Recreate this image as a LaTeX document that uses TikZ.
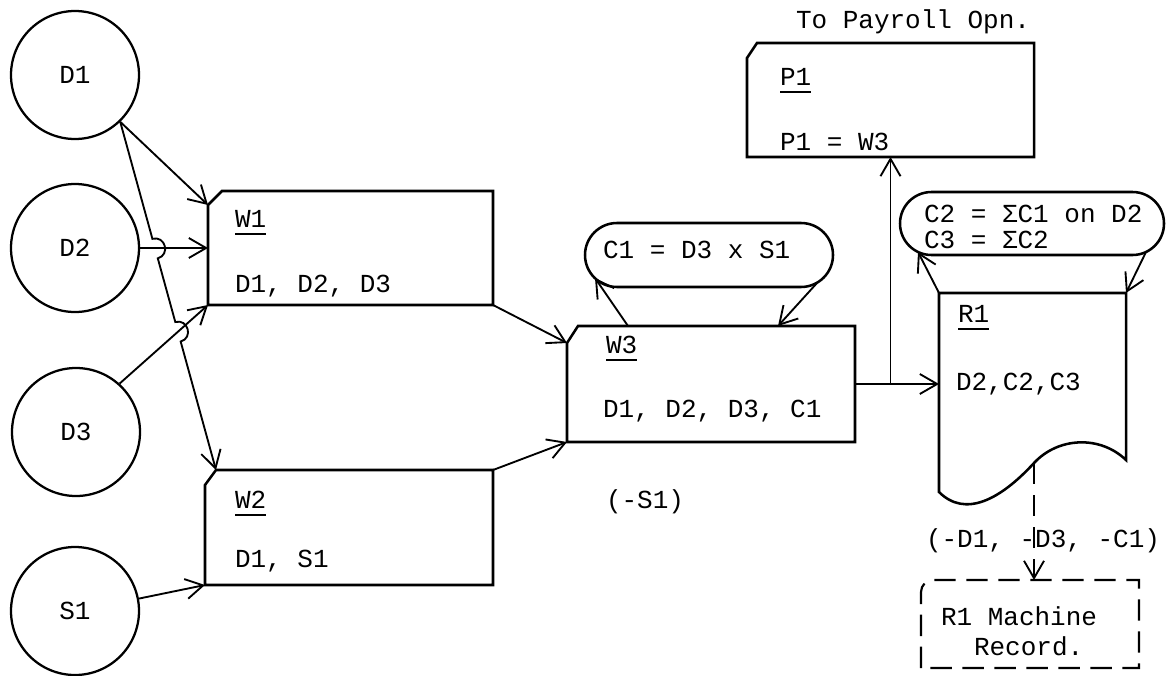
\documentclass[tikz,border=0pt]{standalone}
\usepackage{fontspec}
\setmainfont{Liberation Mono}
\usetikzlibrary{arrows.meta,calc}
\newcommand\ulx[1]{\setbox0=\hbox{#1}\rlap{\rule[-6.2pt]{\wd0}{1.5pt}}\box0}
\tikzset{
 ent/.style={circle, draw, line width=1.7pt, minimum size=96pt, inner sep=0pt},
 frame/.style={rectangle, inner sep=0pt, outer sep=0pt},
 outl/.style={line width=1.9pt, line join=miter},
 loopbox/.style={rectangle, draw, line width=1.9pt, inner sep=0pt, outer sep=0pt},
 conn/.style={line width=1.4pt, -{Straight Barb[length=13pt,width=15pt,line width=1.4pt]}},
 txt/.style={inner sep=0pt, outer sep=0pt, anchor=base west},
 dsh/.style={dash pattern=on 16pt off 8pt},
}
\begin{document}
\begin{tikzpicture}[x=0.75pt,y=-0.75pt, font=\fontsize{19.5}{22}\selectfont]
\useasboundingbox (0,0) rectangle (1166,675);
\fill[white] (0,0) rectangle (1166,675);

% entities
\node[ent] (D1) at (75,75) {D1};
\node[ent] (D2) at (75,248) {D2};
\node[ent] (D3) at (76,432) {D3};
\node[ent] (S1) at (75,611) {S1};

% W1
\node[frame, minimum width=213.75pt, minimum height=85.5pt] (W1) at (350.5,248) {};
\coordinate (W1c) at ($(W1.north west)+(0,14)$);
\draw[outl] (W1c) -- ($(W1.north west)+(14,0)$) -- (W1.north east) -- (W1.south east) -- (W1.south west) -- cycle;
% W2
\node[frame, minimum width=216pt, minimum height=86.25pt] (W2) at (349,527.5) {};
\coordinate (W2c) at ($(W2.north west)+(11,0)$);
\draw[outl] ($(W2.north west)+(0,15)$) -- (W2c) -- (W2.north east) -- (W2.south east) -- (W2.south west) -- cycle;
% W3
\node[frame, minimum width=216pt, minimum height=87pt] (W3) at (711,384) {};
\coordinate (W3c) at ($(W3.north west)+(0,17)$);
\draw[outl] (W3c) -- ($(W3.north west)+(11,0)$) -- (W3.north east) -- (W3.south east) -- (W3.south west) -- cycle;
% P1
\node[frame, minimum width=215.25pt, minimum height=85.5pt] (P1) at (890.5,100) {};
\draw[outl] ($(P1.north west)+(0,15)$) -- ($(P1.north west)+(10,0)$) -- (P1.north east) -- (P1.south east) -- (P1.south west) -- cycle;
% loops
\node[loopbox, rounded corners=24pt, minimum width=186pt, minimum height=48pt] (C1) at (709,255) {};
\node[loopbox, rounded corners=23.6pt, minimum width=198pt, minimum height=47.25pt] (C2) at (1032,223.5) {};
% R1 document
\node[frame, minimum width=140.25pt, minimum height=149.25pt, anchor=north west] (R1) at (939,293) {};
\coordinate (R1w) at ($(R1.north west)+(95,170)$);
\draw[outl] (R1.south west) .. controls +(26,26) and +(-34,37) .. (R1w)
  .. controls +(24,-26) and +(-26,-25) .. ($(R1.north east)+(0,167)$)
  -- (R1.north east) -- (R1.north west) -- cycle;
% machine record
\node[frame, minimum width=163.5pt, minimum height=66pt] (MR) at (1030,624) {};
\draw[outl, line width=1.6pt, dsh] (MR.south west) -- ($(MR.north west)+(0,12)$) to[out=90,in=180] ($(MR.north west)+(12,0)$) -- (MR.north east) -- (MR.south east) -- cycle;

% texts
\node[txt] (pay) at (796,28) {To Payroll Opn.};
\node[txt] (W1t) at (235,227) {\ulx{W1}};
\node[txt] (W1d) at (235,292) {D1, D2, D3};
\node[txt] (W2t) at (235,508) {\ulx{W2}};
\node[txt] (W2d) at (235,567) {D1, S1};
\node[txt] (W3t) at (606,353) {\ulx{W3}};
\node[txt] (W3d) at (603,417) {D1, D2, D3, C1};
\node[txt] (P1t) at (780,85) {\ulx{P1}};
\node[txt] (P1d) at (780,150) {P1 = W3};
\node[txt] (R1t) at (958,322) {\ulx{R1}};
\node[txt] (R1d) at (956,390) {D2,C2,C3};
\node[txt] (S1x) at (606,508) {(-S1)};
\node[txt] (C1t) at (603,258) {C1 = D3 x S1};
\node[txt] (C2t) at (924,222) {C2 = ΣC1 on D2};
\node[txt] (C3t) at (924,248) {C3 = ΣC2};
\node[txt] (Rx) at (926,547) {(-D1, -D3, -C1)};
\node[txt] (MR1) at (941,625) {R1 Machine};
\node[txt] (MR2) at (974,655) {Record.};

% connectors
\draw[conn] (D1.-46) -- (W1c);
\draw[conn] (D2.east) -- (W1.west);
\draw[conn] (D3.48) -- (W1.south west);
\draw[conn] (S1.11) -- (W2.south west);
\coordinate (h1s) at ($(D1.-46)!0.336!(W2c)$);
\coordinate (h1e) at ($(D1.-46)!0.392!(W2c)$);
\coordinate (h2s) at ($(D1.-46)!0.575!(W2c)$);
\coordinate (h2e) at ($(D1.-46)!0.631!(W2c)$);
\draw[conn] (D1.-46) -- (h1s)
  .. controls ($(h1s)!10pt!90:(W2c)$) and ($(h1e)!10pt!90:(W2c)$) .. (h1e)
  -- (h2s)
  .. controls ($(h2s)!10pt!90:(W2c)$) and ($(h2e)!10pt!90:(W2c)$) .. (h2e)
  -- (W2c);
\draw[conn] (W1.south east) -- (W3c);
\draw[conn] (W2.north east) -- (W3.south west);
\draw[conn] (W3.east) -- (W3.east -| R1.west);
\coordinate (J) at (W3.east -| P1.south);
\draw[conn] (J) -- (P1.south);
\draw[conn] ($(W3.north west)+(61,0)$) -- ($(C1.south west)+(10,-9)$);
\draw[conn] ($(C1.south east)+(-16,-4)$) -- ($(W3.north east)+(-77,0)$);
\draw[conn] (R1.north west) -- ($(C2.south west)+(18,-3)$);
\draw[conn] ($(C2.south east)+(-18,-3)$) -- (R1.north east);
\draw[conn, dsh] (R1w) -- (R1w |- MR.north);
\end{tikzpicture}
\end{document}
